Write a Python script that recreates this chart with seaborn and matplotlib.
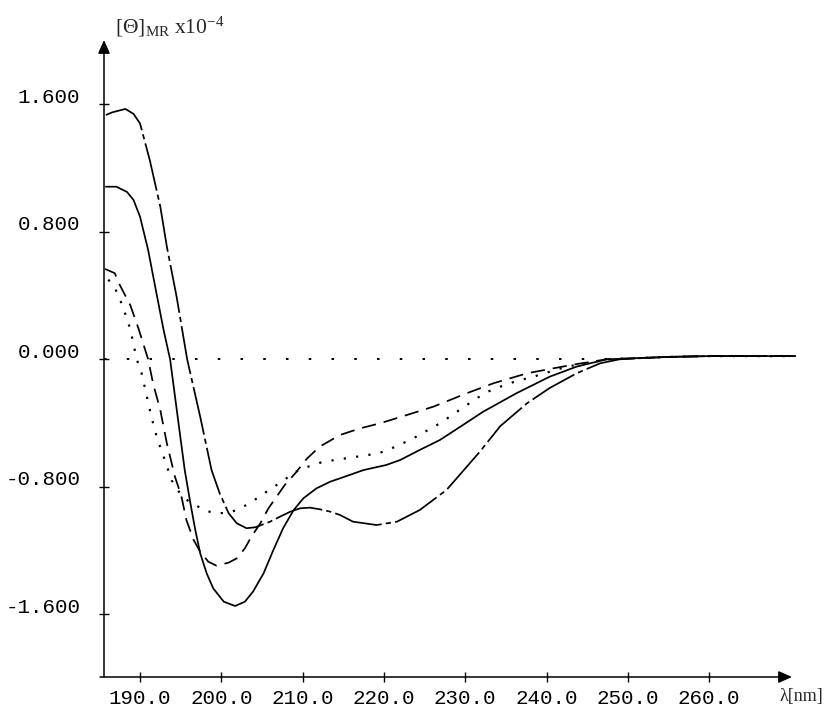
import numpy as np
import pandas as pd
import matplotlib
matplotlib.use("Agg")
import matplotlib.pyplot as plt
import matplotlib.transforms as mtrans
import seaborn as sns

# ---------------- data ----------------
dashdot_nm = [185.8, 186.6, 188.2, 189.2, 190.0, 191.2, 192.5, 193.3, 194.5, 195.8,
              197.4, 198.8, 199.8, 200.9, 201.9, 203.1, 204.2, 206.0, 207.2, 208.5,
              209.7, 210.9, 212.1, 213.4, 214.6, 216.2, 219.1, 221.6, 224.4, 227.7,
              231.8, 234.3, 237.6, 240.4, 243.7, 246.6, 249.0, 252.0, 255.0, 260.0,
              265.0, 270.6]
dashdot_val = [1.533, 1.55, 1.571, 1.54, 1.48, 1.25, 0.957, 0.707, 0.393, 0.0,
               -0.36, -0.695, -0.841, -0.966, -1.029, -1.06, -1.054, -1.019, -0.988, -0.956,
               -0.935, -0.931, -0.941, -0.956, -0.977, -1.019, -1.04, -1.019, -0.946, -0.82,
               -0.58, -0.42, -0.276, -0.18, -0.088, -0.025, 0.0, 0.008, 0.015, 0.02,
               0.02, 0.02]

solid_nm = [185.8, 187.1, 188.4, 189.2, 190.0, 191.0, 192.0, 192.9, 193.7, 194.5,
            195.5, 196.2, 196.8, 197.4, 198.2, 199.0, 200.3, 201.7, 202.9, 203.9,
            205.2, 206.4, 207.6, 208.9, 210.1, 211.7, 213.4, 214.6, 217.5, 220.3,
            222.0, 224.4, 226.9, 229.4, 232.2, 236.3, 240.4, 243.7, 247.4, 250.0,
            255.0, 260.0, 265.0, 270.6]
solid_val = [1.083, 1.083, 1.05, 1.0, 0.895, 0.686, 0.42, 0.184, 0.0, -0.31,
             -0.695, -0.904, -1.071, -1.217, -1.343, -1.437, -1.521, -1.548, -1.521, -1.458,
             -1.343, -1.197, -1.06, -0.946, -0.872, -0.81, -0.768, -0.747, -0.695, -0.663,
             -0.632, -0.569, -0.506, -0.423, -0.329, -0.213, -0.109, -0.046, 0.0, 0.005,
             0.015, 0.02, 0.02, 0.02]

dashed_nm = [185.7, 186.9, 187.3, 188.8, 189.8, 191.0, 191.6, 192.5, 193.3, 194.3,
             195.1, 195.7, 196.6, 197.4, 198.4, 199.4, 200.9, 201.9, 202.9, 203.7,
             204.8, 205.8, 206.8, 207.8, 209.1, 210.5, 212.1, 214.6, 217.1, 219.5,
             222.8, 226.1, 230.2, 233.5, 237.6, 240.8, 243.7, 247.4, 250.0, 255.0,
             260.0, 265.0, 270.6]
dashed_val = [0.567, 0.54, 0.487, 0.34, 0.195, 0.0, -0.15, -0.32, -0.527, -0.737,
              -0.862, -1.008, -1.134, -1.207, -1.27, -1.295, -1.276, -1.249, -1.186, -1.113,
              -1.029, -0.935, -0.862, -0.789, -0.715, -0.625, -0.548, -0.475, -0.433, -0.402,
              -0.35, -0.297, -0.213, -0.15, -0.088, -0.057, -0.03, 0.0, 0.005, 0.015,
              0.02, 0.02, 0.02]

dotted_nm = [186.1, 186.9, 187.9, 188.8, 189.6, 190.2, 190.8, 191.4, 192.1, 192.7,
             193.3, 193.9, 194.6, 195.5, 196.8, 198.0, 199.4, 200.7, 201.9, 203.1,
             204.4, 205.6, 206.8, 208.0, 209.2, 210.3, 211.3, 212.6, 214.0, 215.4, 216.7,
             218.1, 219.3, 220.5, 222.0, 223.2, 224.4, 225.7, 226.9, 228.1, 230.2,
             231.4, 232.8, 234.3, 236.1, 238.4, 240.4, 242.5, 244.9, 247.4, 250.0,
             255.0, 260.0, 265.0, 270.6]
dotted_val = [0.50, 0.45, 0.33, 0.19, 0.0, -0.088, -0.224, -0.36, -0.496, -0.58,
              -0.67, -0.76, -0.82, -0.875, -0.914, -0.95, -0.966, -0.964, -0.946, -0.914,
              -0.872, -0.83, -0.789, -0.747, -0.705, -0.68, -0.663, -0.642, -0.632, -0.621, -0.611,
              -0.60, -0.59, -0.569, -0.535, -0.506, -0.475, -0.435, -0.402, -0.36, -0.287,
              -0.245, -0.203, -0.172, -0.14, -0.109, -0.078, -0.046, -0.025, 0.0, 0.005,
              0.015, 0.02, 0.02, 0.02]

zero_line_nm = [185.57, 249.1]

x_ticks = [190, 200, 210, 220, 230, 240, 250, 260]
x_tick_labels = ["190.0", "200.0", "210.0", "220.0", "230.0", "240.0", "250.0", "260.0"]
y_ticks = [-1.6, -0.8, 0.0, 0.8, 1.6]
y_tick_labels = ["-1.600", "-0.800", "0.000", "0.800", "1.600"]

x_label = "λ[nm]"
y_label = r"$\mathrm{[\Theta]_{MR}\ x10^{-4}}$"

# ---------------- style ----------------
sns.set_style("white")
plt.rcParams["font.family"] = ["DejaVu Sans"]
plt.rcParams["mathtext.fontset"] = "custom"
plt.rcParams["mathtext.rm"] = "Liberation Serif"
plt.rcParams["mathtext.it"] = "Liberation Serif:italic"
plt.rcParams["mathtext.bf"] = "Liberation Serif:bold"

W, H = 825, 708
fig = plt.figure(figsize=(W / 100, H / 100), dpi=100)
fig.patch.set_facecolor("white")
ax_left, ax_right, ax_top, ax_bottom = 104, 800, 40, 677
ax = fig.add_axes([ax_left / W, (H - ax_bottom) / H,
                   (ax_right - ax_left) / W, (ax_bottom - ax_top) / H])
ax.set_facecolor("white")

curves = [
    (dashdot_nm, dashdot_val, (0, (28, 2.4, 3.0, 2.4)), 1.25),
    (solid_nm, solid_val, "-", 1.25),
    (dashed_nm, dashed_val, (0, (8.2, 4.6)), 1.25),
    (dotted_nm, dotted_val, (0, (1.0, 4.6)), 1.6),
]
for xs, ys, ls, lw in curves:
    df = pd.DataFrame({"nm": xs, "theta": ys})
    sns.lineplot(data=df, x="nm", y="theta", ax=ax, color="black",
                 linestyle=ls, linewidth=lw, estimator=None, sort=False)

# dotted zero reference line
ax.hlines(0.0, zero_line_nm[0], zero_line_nm[1], colors="black",
          linestyles=[(0, (1.3, 10.4))], linewidth=1.4)

ax.set_xlim(185.57, 271.18)
ax.set_ylim(-1.9936, 2.0036)

for s in ax.spines.values():
    s.set_visible(False)

# axes lines with arrows
arrow_kw = dict(arrowstyle="-|>,head_length=0.45,head_width=0.2", color="black",
                lw=1.1, shrinkA=0, shrinkB=0, mutation_scale=18)
ax.annotate("", xy=(0, 1.0), xytext=(0, 0), xycoords="axes fraction",
            textcoords="axes fraction", arrowprops=arrow_kw, annotation_clip=False)
ax.annotate("", xy=((792 - ax_left) / (ax_right - ax_left), 0),
            xytext=(-4 / (ax_right - ax_left), 0), xycoords="axes fraction",
            textcoords="axes fraction", arrowprops=arrow_kw, annotation_clip=False)

ax.set_xticks(x_ticks)
ax.set_xticklabels(x_tick_labels)
ax.set_yticks(y_ticks)
ax.set_yticklabels(y_tick_labels)
ax.tick_params(axis="both", direction="inout", length=7, width=1.0, color="black",
               labelsize=15, labelcolor="black", left=True, bottom=True)
ax.tick_params(axis="x", pad=5.5)
ax.tick_params(axis="y", pad=13.5)
for lab in ax.get_xticklabels() + ax.get_yticklabels():
    lab.set_fontfamily("Liberation Mono")
offset = mtrans.ScaledTranslation(0, 9 / 100, fig.dpi_scale_trans)
for lab in ax.get_yticklabels():
    lab.set_transform(lab.get_transform() + offset)

ax.set_xlabel("")
ax.set_ylabel("")

fig.text(779 / W, 1 - 697 / H, x_label, ha="left", va="center",
         fontsize=13, family="Liberation Serif")
fig.text(115 / W, 1 - 33 / H, y_label, ha="left", va="baseline", fontsize=15.5)

fig.savefig("out.png", dpi=100, facecolor="white")
